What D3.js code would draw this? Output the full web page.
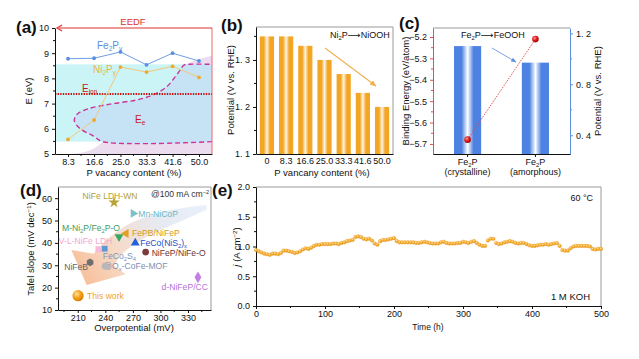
<!DOCTYPE html>
<html><head><meta charset="utf-8">
<script src="https://cdn.jsdelivr.net/npm/d3@7"></script>
<style>
body{margin:0;background:#fff}
svg{display:block;font-family:"Liberation Sans",Arial,"DejaVu Sans",sans-serif}
</style>
</head><body>
<svg id="chart" width="639" height="359"></svg>
<script>
// ---------------- DATA ----------------
// (a)
const aVacancy = [8.3, 16.6, 25.0, 33.3, 41.6, 50.0];
const aFe2Py = [8.78, 8.80, 9.05, 8.54, 9.00, 8.69];
const aNi2Py = [5.58, 6.35, 8.45, 8.25, 8.48, 8.04];
const aEion = 7.38;
const aBand = [5.49, 8.56];
const aEeCurve = [[54.15,5.49],[19.4,5.49],[16.3,5.72],[12.0,6.02],[10.3,6.32],[11.2,6.58],[14.6,6.79],[21.7,6.98],[30.3,7.15],[35.6,7.36],[39.8,7.68],[42.4,8.06],[44.0,8.33],[45.2,8.53],[47,8.56],[54.15,8.56]];
const aEedfCurve = [[9.5,5.0],[13,5.06],[16.5,5.22],[19.4,5.48],[25,6.0],[32,6.8],[40,7.8],[46,8.55],[50,8.76],[54.15,8.9]];
// (b)
const bVacancy = ["0","8.3","16.6","25.0","33.3","41.6","50.0"];
const bPotential = [1.35, 1.35, 1.33, 1.30, 1.27, 1.23, 1.20];
// (c)
const cPhase = ["crystalline","amorphous"];
const cPotential = [1.10, 0.97];
const cBinding = [-5.68, -5.21];
// (d)
const dNames = ["NiFe LDH-WN","Mn-NiCoP","M-Ni2P/Fe2P-O","FePB/NiFeP","FeCo(NiS2)x","NiFeP/NiFe-O","V-L-NiFe LDH","FeCo2S4","NiFeB","@Ox-CoFe-MOF","d-NiFeP/CC","This work"];
const dOverpotential = [249.5, 270.4, 254.9, 262.5, 272.6, 283.9, 232.4, 239.3, 223.4, 240.0, 340.8, 210.3];
const dTafel = [58.1, 53.2, 42.7, 44.2, 40.0, 35.9, 37.2, 37.4, 31.3, 29.6, 24.6, 16.4];
// trend arrow outline (overpotential, Tafel units)
const dArrowUpper = [[350.2,56.9],[328.5,55.8],[299.5,53.6],[270.1,49.3],[245.1,42.6],[227.5,35.2]];
const dArrowHead = [[203,36.8],[219.8,21.2],[262,26.0]];
const dArrowLower = [[249.5,29.8],[257.8,35.0],[277.7,41.0],[302.7,46.3],[328.5,50.8],[350.2,54.8]];
// (e)
const eHours = [0,4,8,12,16,20,24,28,32,36,40,44,48,52,56,60,64,68,72,76,80,84,88,92,96,100,104,108,112,116,120,124,128,132,136,140,144,148,152,156,160,164,168,172,176,180,184,188,192,196,200,204,208,212,216,220,224,228,232,236,240,244,248,252,256,260,264,268,272,276,280,284,288,292,296,300,304,308,312,316,320,324,328,332,336,340,344,348,352,356,360,364,368,372,376,380,384,388,392,396,400,404,408,412,416,420,424,428,432,436,440,444,448,452,456,460,464,468,472,476,480,484,488,492,496,500];
const eCurrent = [0.94,0.92,0.90,0.88,0.87,0.86,0.88,0.88,0.87,0.89,0.93,0.93,0.92,0.91,0.89,0.90,0.92,0.95,0.97,0.96,0.98,1.01,1.03,1.03,1.04,1.04,1.04,1.04,1.05,1.05,1.04,1.06,1.07,1.09,1.10,1.11,1.16,1.17,1.16,1.13,1.12,1.13,1.10,1.05,1.03,1.09,1.11,1.11,1.12,1.13,1.14,1.09,1.07,1.07,1.07,1.07,1.07,1.07,1.06,1.06,1.07,1.08,1.07,1.06,1.05,1.05,1.05,1.07,1.08,1.06,1.05,1.05,1.05,1.06,1.06,1.08,1.07,1.06,1.08,1.09,1.06,1.03,1.01,1.01,1.10,1.13,1.13,1.06,1.04,1.05,1.07,1.08,1.09,1.08,1.06,1.05,1.06,1.06,1.04,1.02,1.01,1.01,1.02,1.03,1.03,1.04,1.03,1.04,1.05,1.06,1.01,0.94,0.93,0.93,0.97,1.00,1.01,1.01,1.01,1.01,1.01,1.00,0.96,0.95,0.96,0.96];

// ---------------- STYLES / LAYOUT ----------------
const svg = d3.select("#chart");
svg.append("rect").attr("width",639).attr("height",359).attr("fill","#fff");
const defs = svg.append("defs");
const FS = 9;

function hGrad(id, edge, mid) {
  const g = defs.append("linearGradient").attr("id", id).attr("x1","0").attr("x2","1").attr("y1","0").attr("y2","0");
  [[0,edge],[0.28,edge],[0.5,mid],[0.72,edge],[1,edge]].forEach(([o,c])=>g.append("stop").attr("offset",o).attr("stop-color",c));
}
hGrad("gOrange", "#f3a524", "#fff4e0");
hGrad("gBlue", "#4d82e3", "#ffffff");
function sphere(id, light, base, dark) {
  const g = defs.append("radialGradient").attr("id", id).attr("cx","0.38").attr("cy","0.35").attr("r","0.65");
  g.append("stop").attr("offset",0).attr("stop-color",light);
  g.append("stop").attr("offset",0.55).attr("stop-color",base);
  g.append("stop").attr("offset",1).attr("stop-color",dark);
}
sphere("sRed", "#ff9a9a", "#e01818", "#a00000");
sphere("sOrange", "#ffe2a0", "#f5a21a", "#d88000");
sphere("sDot", "#ffe0a0", "#f6ae2c", "#e28e10");

function marker(id, color) {
  defs.append("marker").attr("id", id).attr("viewBox","0 0 10 10").attr("refX",9).attr("refY",5)
    .attr("markerWidth",6).attr("markerHeight",6).attr("orient","auto-start-reverse")
    .append("path").attr("d","M0,1 L10,5 L0,9 z").attr("fill",color);
}
marker("arrOrange", "#f0b050");
marker("arrBlue", "#5b8fe0");

function styleAxis(g, color) {
  g.selectAll("path").attr("stroke", color).attr("stroke-width", 1);
  g.selectAll("line").attr("stroke", color);
  g.selectAll("text").attr("fill", "#111").attr("font-size", FS).attr("font-family", "Liberation Sans, Arial, sans-serif");
}
function minorTicks(g, vals, scale, orient, at, color, len) {
  vals.forEach(v => {
    const p = scale(v);
    if (orient === "left") g.append("line").attr("x1", at).attr("x2", at - len).attr("y1", p).attr("y2", p);
    else if (orient === "right") g.append("line").attr("x1", at).attr("x2", at + len).attr("y1", p).attr("y2", p);
    else g.append("line").attr("x1", p).attr("x2", p).attr("y1", at).attr("y2", at + len);
  });
  g.selectAll("line").attr("stroke", color);
}
function richText(parent, x, y, parts, opts) {
  const t = parent.append("text").attr("x", x).attr("y", y)
    .attr("font-size", opts.size || FS).attr("fill", opts.color || "#111")
    .attr("text-anchor", opts.anchor || "start");
  if (opts.rotate) t.attr("transform", `rotate(-90,${x},${y})`);
  parts.forEach(p => {
    if (typeof p === "string") t.append("tspan").text(p);
    else if (p.sub) t.append("tspan").attr("font-size", (opts.size || FS) * 0.65).attr("dy", 2).text(p.sub);
    else if (p.sup) t.append("tspan").attr("font-size", (opts.size || FS) * 0.65).attr("dy", -3.5).text(p.sup);
    else if (p.reset) t.append("tspan").attr("dy", p.reset).text(p.text);
    else if (p.italic) t.append("tspan").attr("font-style","italic").text(p.italic);
  });
  return t;
}
function panelLabel(x, y, s) {
  svg.append("text").attr("x", x).attr("y", y).attr("font-size", 17).attr("font-weight", "bold").attr("fill", "#111").text(s);
}

// ================= PANEL (a) =================
const A = {x0:55, y0:28, x1:212, y1:154};
const ax = d3.scaleLinear().domain([4.15, 54.15]).range([A.x0, A.x1]);
const ay = d3.scaleLinear().domain([5, 10]).range([A.y1, A.y0]);
const ga = svg.append("g");
const lineA = d3.line().x(d => ax(d[0])).y(d => ay(d[1])).curve(d3.curveCatmullRom);
ga.append("path").attr("d", lineA(aEedfCurve) + `L${ax(54.15)},${ay(5)}Z`).attr("fill", "#ecdcf0");
ga.append("rect").attr("x", A.x0).attr("width", A.x1 - A.x0).attr("y", ay(aBand[1])).attr("height", ay(aBand[0]) - ay(aBand[1])).attr("fill", "#cbf4f7");
const eePath = d3.line().x(d => ax(d[0])).y(d => ay(d[1])).curve(d3.curveCatmullRom.alpha(0.5));
ga.append("path").attr("d", eePath(aEeCurve) + "Z").attr("fill", "#c5e3f4");
ga.append("path").attr("d", eePath(aEeCurve)).attr("fill", "none").attr("stroke", "#cc3399").attr("stroke-width", 1.4).attr("stroke-dasharray", "5 3");
ga.append("line").attr("x1", A.x0).attr("x2", A.x1).attr("y1", ay(aEion)).attr("y2", ay(aEion)).attr("stroke", "#cc1111").attr("stroke-width", 2.2).attr("stroke-dasharray", "1.4 1.2");
const aLine = d3.line().x((d,i) => ax(aVacancy[i])).y(d => ay(d));
ga.append("path").attr("d", aLine(aNi2Py)).attr("fill", "none").attr("stroke", "#f2c77a").attr("stroke-width", 1);
ga.append("path").attr("d", aLine(aFe2Py)).attr("fill", "none").attr("stroke", "#6e9ee8").attr("stroke-width", 1);
ga.selectAll(".ni").data(aNi2Py).enter().append("circle").attr("cx", (d,i) => ax(aVacancy[i])).attr("cy", d => ay(d)).attr("r", 1.9).attr("fill", "#f0a830");
ga.selectAll(".fe").data(aFe2Py).enter().append("circle").attr("cx", (d,i) => ax(aVacancy[i])).attr("cy", d => ay(d)).attr("r", 1.9).attr("fill", "#5a8ee3");
ga.append("line").attr("x1", A.x1).attr("x2", A.x1).attr("y1", A.y0).attr("y2", A.y1).attr("stroke", "#e86a6a");
ga.append("line").attr("x1", A.x0 + 4).attr("x2", A.x1).attr("y1", A.y0).attr("y2", A.y0).attr("stroke", "#e03030").attr("stroke-width", 1.2);
ga.append("path").attr("d", `M${A.x0+7},${A.y0-3} L${A.x0+2},${A.y0} L${A.x0+7},${A.y0+3}`).attr("fill","none").attr("stroke","#e03030").attr("stroke-width",1.2);
const ayAxis = ga.append("g").attr("transform", `translate(${A.x0},0)`).call(d3.axisLeft(ay).tickValues([5,6,7,8,9,10]).tickSize(3).tickSizeOuter(0).tickFormat(d3.format("d")));
styleAxis(ayAxis, "#111");
minorTicks(ga.append("g"), [5.5,6.5,7.5,8.5,9.5], ay, "left", A.x0, "#111", 2);
const axAxis = ga.append("g").attr("transform", `translate(0,${A.y1})`).call(d3.axisBottom(ax).tickValues(aVacancy).tickSize(3).tickPadding(2).tickSizeOuter(0).tickFormat(d3.format(".1f")));
styleAxis(axAxis, "#111");
minorTicks(ga.append("g"), [12.45,20.8,29.15,37.45,45.8], ax, "bottom", A.y1, "#111", 2);
ga.append("text").attr("x", 133).attr("y", 25).attr("text-anchor","middle").attr("font-size", 9.5).attr("fill", "#e03030").text("EEDF");
richText(ga, 97, 49, ["Fe", {sub:"2"}, {reset:-2, text:"P"}, {sub:"y"}], {color:"#5a8ee3", size:10});
richText(ga, 93, 73, ["Ni", {sub:"2"}, {reset:-2, text:"P"}, {sub:"y"}], {color:"#eab64a", size:10});
richText(ga, 82, 92, ["E", {sub:"ion"}], {color:"#c81818", size:10});
richText(ga, 135, 123, ["E", {sub:"e"}], {color:"#c81818", size:10});
richText(svg, 32, 91, ["E (eV)"], {rotate:true, anchor:"middle", size:9.5});
svg.append("text").attr("x", 134).attr("y", 176).attr("text-anchor","middle").attr("font-size",9.5).attr("fill","#111").text("P vacancy content (%)");
panelLabel(16, 33, "(a)");

// ================= PANEL (b) =================
const B = {x0:256, y0:27, x1:393, y1:154};
const bx = d3.scaleBand().domain(bVacancy).range([B.x0, B.x1]).paddingInner(0.26).paddingOuter(0.2);
const by = d3.scaleLinear().domain([1.1, 1.37]).range([B.y1, B.y0]);
const gb = svg.append("g");
gb.selectAll(".bar").data(bPotential).enter().append("rect")
  .attr("x", (d,i) => bx(bVacancy[i])).attr("width", bx.bandwidth())
  .attr("y", d => by(d)).attr("height", d => B.y1 - by(d)).attr("fill", "url(#gOrange)");
gb.append("path").attr("d", `M${B.x0},${B.y0}H${B.x1}V${B.y1}`).attr("fill","none").attr("stroke","#9a9a9a");
const byAxis = gb.append("g").attr("transform", `translate(${B.x0},0)`).call(d3.axisLeft(by).tickValues([1.1,1.2,1.3]).tickSize(3).tickSizeOuter(0).tickFormat(d => d.toFixed(1).replace(".", ". ")));
styleAxis(byAxis, "#111");
minorTicks(gb.append("g"), [1.15,1.25,1.35], by, "left", B.x0, "#111", 2);
const bxAxis = gb.append("g").attr("transform", `translate(0,${B.y1})`).call(d3.axisBottom(bx).tickSize(0).tickPadding(4).tickSizeOuter(0));
styleAxis(bxAxis, "#111");
gb.append("line").attr("x1", 325).attr("y1", 48).attr("x2", 376).attr("y2", 86).attr("stroke", "#f0b050").attr("stroke-width", 1.1).attr("marker-end", "url(#arrOrange)");
richText(gb, 330, 38, ["Ni", {sub:"2"}, {reset:-2, text:"P\u27F6NiOOH"}], {size:9});
richText(svg, 234, 90, ["Potential (V vs. RHE)"], {rotate:true, anchor:"middle", size:9.5});
svg.append("text").attr("x", 322).attr("y", 176).attr("text-anchor","middle").attr("font-size",9.5).attr("fill","#111").text("P vancany content (%)");
panelLabel(221, 31, "(b)");

// ================= PANEL (c) =================
const C = {x0:433, y0:28, x1:570, y1:154};
const cx = d3.scaleBand().domain(cPhase).range([C.x0, C.x1]).paddingInner(0.6).paddingOuter(0.31);
const cyL = d3.scaleLinear().domain([-5.747, -5.158]).range([C.y1, C.y0]);
const cyR = d3.scaleLinear().domain([0.253, 1.242]).range([C.y1, C.y0]);
const gc = svg.append("g");
gc.selectAll(".bar").data(cPotential).enter().append("rect")
  .attr("x", (d,i) => cx(cPhase[i])).attr("width", cx.bandwidth())
  .attr("y", d => cyR(d)).attr("height", d => C.y1 - cyR(d)).attr("fill", "url(#gBlue)");
gc.append("line").attr("x1", C.x0).attr("x2", C.x1).attr("y1", C.y0).attr("y2", C.y0).attr("stroke", "#9a9a9a");
const cyLAxis = gc.append("g").attr("transform", `translate(${C.x0},0)`).call(d3.axisLeft(cyL).tickValues([-5.2,-5.3,-5.4,-5.5,-5.6,-5.7]).tickSize(3).tickSizeOuter(0).tickFormat(d => "\u2212" + Math.abs(d).toFixed(1)));
styleAxis(cyLAxis, "#e05050");
minorTicks(gc.append("g"), [-5.25,-5.35,-5.45,-5.55,-5.65], cyL, "left", C.x0, "#e05050", 2);
const cyRAxis = gc.append("g").attr("transform", `translate(${C.x1},0)`).call(d3.axisRight(cyR).tickValues([0.4,0.8,1.2]).tickSize(3).tickSizeOuter(0).tickFormat(d => d.toFixed(1).replace(".", ". ")));
styleAxis(cyRAxis, "#5b8fe0");
minorTicks(gc.append("g"), [0.6,1.0], cyR, "right", C.x1, "#5b8fe0", 2);
const cxAxis = gc.append("g").attr("transform", `translate(0,${C.y1})`).call(d3.axisBottom(cx).tickSize(3).tickSizeOuter(0).tickFormat(""));
styleAxis(cxAxis, "#111");
cPhase.forEach(p => {
  richText(gc, cx(p) + cx.bandwidth()/2, 165, ["Fe", {sub:"2"}, {reset:-2, text:"P"}], {anchor:"middle", size:9});
  gc.append("text").attr("x", cx(p) + cx.bandwidth()/2).attr("y", 175).attr("text-anchor","middle").attr("font-size",9).attr("fill","#111").text("(" + p + ")");
});
const cLine = d3.line().x((d,i) => cx(cPhase[i]) + cx.bandwidth()/2).y(d => cyL(d));
gc.append("path").attr("d", cLine(cBinding)).attr("fill","none").attr("stroke","#e04040").attr("stroke-width",0.9).attr("stroke-dasharray","1.5 1.2");
gc.selectAll(".pt").data(cBinding).enter().append("circle").attr("cx", (d,i) => cx(cPhase[i]) + cx.bandwidth()/2).attr("cy", d => cyL(d)).attr("r", 3.3).attr("fill", "url(#sRed)");
gc.append("line").attr("x1", 492).attr("y1", 48).attr("x2", 516).attr("y2", 62).attr("stroke", "#6b9ae6").attr("stroke-width", 0.9).attr("marker-end", "url(#arrBlue)");
richText(gc, 461, 38, ["Fe", {sub:"2"}, {reset:-2, text:"P\u27F6FeOOH"}], {size:9});
richText(svg, 409, 91, ["Binding Energy (eV/atom)"], {rotate:true, anchor:"middle", size:9.5});
richText(svg, 601, 91, ["Potential (V vs. RHE)"], {rotate:true, anchor:"middle", size:9.5});
panelLabel(399, 29, "(c)");

// ================= PANEL (d) =================
const D = {x0:58, y0:187, x1:211, y1:310};
const dx = d3.scaleLinear().domain([188.5, 355]).range([D.x0, D.x1]);
const dy = d3.scaleLinear().domain([10, 65]).range([D.y1, D.y0]);
const gd = svg.append("g");
const agr = defs.append("linearGradient").attr("id","gArrow").attr("gradientUnits","userSpaceOnUse")
  .attr("x1", dx(dArrowUpper[0][0])).attr("y1", dy(dArrowUpper[0][1]))
  .attr("x2", dx(dArrowHead[1][0])).attr("y2", dy(dArrowHead[1][1]));
agr.append("stop").attr("offset",0).attr("stop-color","#d3e3f6").attr("stop-opacity",0.5);
agr.append("stop").attr("offset",0.35).attr("stop-color","#e1e4ee").attr("stop-opacity",0.8);
agr.append("stop").attr("offset",0.7).attr("stop-color","#f6d3bd").attr("stop-opacity",0.85);
agr.append("stop").attr("offset",1).attr("stop-color","#f6b990").attr("stop-opacity",0.9);
const cr = d3.line().x(d => dx(d[0])).y(d => dy(d[1])).curve(d3.curveCatmullRom);
const arrowD = cr(dArrowUpper)
  + dArrowHead.map(p => `L${dx(p[0])},${dy(p[1])}`).join("")
  + "L" + cr(dArrowLower).slice(1) + "Z";
gd.append("path").attr("d", arrowD).attr("fill", "url(#gArrow)");
gd.append("path").attr("d", `M${D.x0},${D.y0}H${D.x1}V${D.y1}`).attr("fill","none").attr("stroke","#9a9a9a");
const dyAxis = gd.append("g").attr("transform", `translate(${D.x0},0)`).call(d3.axisLeft(dy).tickValues([10,20,30,40,50,60]).tickSize(3).tickSizeOuter(0));
styleAxis(dyAxis, "#111");
minorTicks(gd.append("g"), [15,25,35,45,55], dy, "left", D.x0, "#111", 2);
const dxAxis = gd.append("g").attr("transform", `translate(0,${D.y1})`).call(d3.axisBottom(dx).tickValues([210,240,270,300,330]).tickSize(3).tickPadding(1.5).tickSizeOuter(0));
styleAxis(dxAxis, "#111");
minorTicks(gd.append("g"), [195,225,255,285,315,345], dx, "bottom", D.y1, "#111", 2);

const dStyles = [
  {shape:d3.symbolStar, size:40, color:"#b8a338", tc:"#b3a034", dx:-4, dy:-3, anchor:"middle"},
  {shape:"triR", size:34, color:"#7cc3c9", tc:"#6fb6bf", dx:5, dy:3.5, anchor:"start"},
  {shape:"triD", size:34, color:"#3aa866", tc:"#3c9e5e", dx:1, dy:-6, anchor:"end"},
  {shape:"triL", size:34, color:"#e0a023", tc:"#d59b22", dx:6, dy:2, anchor:"start"},
  {shape:"triU", size:34, color:"#2162d6", tc:"#2050c4", dx:5, dy:3, anchor:"start"},
  {shape:d3.symbolCircle, size:36, color:"#7a3c3c", tc:"#6a3434", dx:6, dy:4, anchor:"start"},
  {shape:d3.symbolSquare, size:34, color:"#f6b9d8", tc:"#f3a6ce", dx:14, dy:-5, anchor:"end"},
  {shape:d3.symbolSquare, size:34, color:"#5b9bd5", tc:"#7894be", dx:-2, dy:10, anchor:"start"},
  {shape:"hex", size:40, color:"#6f6f6f", tc:"#666", dx:-2, dy:8, anchor:"end"},
  {shape:d3.symbolCircle, size:40, color:"#b8b8b8", tc:"#8090b4", dx:-2, dy:3, anchor:"start"},
  {shape:d3.symbolDiamond, size:40, color:"#c47ee3", tc:"#b672d6", dx:10, dy:13, anchor:"end"},
  {shape:"sphere", size:0, color:"url(#sOrange)", tc:"#f0a22a", dx:9, dy:3, anchor:"start"}
];
function shapePath(s) {
  if (["triU","triD","triR","triL"].includes(s.shape)) return d3.symbol(d3.symbolTriangle, s.size)();
  if (s.shape === "hex") { const r = 3.8; return d3.range(6).map(k => { const a = Math.PI/6 + k*Math.PI/3; return (k ? "L" : "M") + (r*Math.cos(a)).toFixed(2) + "," + (r*Math.sin(a)).toFixed(2); }).join("") + "Z"; }
  return d3.symbol(s.shape, s.size)();
}
const rot = {triU:0, triD:180, triR:90, triL:-90};
const subs = {"M-Ni2P/Fe2P-O":["M-Ni",["2"],"P/Fe",["2"],"P-O"], "FeCo(NiS2)x":["FeCo(NiS",["2"],")",["x"]], "FeCo2S4":["FeCo",["2"],"S",["4"]], "@Ox-CoFe-MOF":["@O",["x"],"-CoFe-MOF"]};
dNames.forEach((name, i) => {
  const s = dStyles[i];
  const px = dx(dOverpotential[i]), py = dy(dTafel[i]);
  const t = gd.append("text").attr("x", px + s.dx).attr("y", py + s.dy).attr("text-anchor", s.anchor).attr("font-size", 8.6).attr("fill", s.tc);
  const parts = subs[name] || [name];
  let down = false;
  parts.forEach(p => {
    if (Array.isArray(p)) { t.append("tspan").attr("font-size", 5.8).attr("dy", down ? 0 : 2).text(p[0]); down = true; }
    else { t.append("tspan").attr("dy", down ? -2 : 0).text(p); down = false; }
  });
  if (s.shape === "sphere") {
    gd.append("circle").attr("cx", px).attr("cy", py).attr("r", 5.6).attr("fill", s.color);
  } else {
    gd.append("path").attr("d", shapePath(s)).attr("transform", `translate(${px},${py}) rotate(${rot[s.shape] || 0})`).attr("fill", s.color);
  }
});
richText(gd, 209, 197, ["@100 mA cm", {sup:"\u22122"}], {anchor:"end", size:8.6, color:"#333"});
richText(svg, 34, 249, ["Tafel slope (mV dec", {sup:"\u22121"}, {reset:3.5, text:")"}], {rotate:true, anchor:"middle", size:9.5});
svg.append("text").attr("x", 134).attr("y", 331).attr("text-anchor","middle").attr("font-size",9.5).attr("fill","#111").text("Overpotential (mV)");
panelLabel(20, 196, "(d)");

// ================= PANEL (e) =================
const E = {x0:256, y0:187, x1:601, y1:306};
const ex = d3.scaleLinear().domain([0, 500]).range([E.x0, E.x1]);
const ey = d3.scaleLinear().domain([0, 2]).range([E.y1, E.y0]);
const ge = svg.append("g");
ge.append("path").attr("d", `M${E.x0},${E.y0}H${E.x1}V${E.y1}`).attr("fill","none").attr("stroke","#9a9a9a");
const eyAxis = ge.append("g").attr("transform", `translate(${E.x0},0)`).call(d3.axisLeft(ey).tickValues([0,0.5,1,1.5,2]).tickSize(3).tickSizeOuter(0).tickFormat(d3.format(".1f")));
styleAxis(eyAxis, "#111");
minorTicks(ge.append("g"), [0.25,0.75,1.25,1.75], ey, "left", E.x0, "#111", 2);
const exAxis = ge.append("g").attr("transform", `translate(0,${E.y1})`).call(d3.axisBottom(ex).tickValues([0,100,200,300,400,500]).tickSize(3).tickPadding(2).tickSizeOuter(0));
styleAxis(exAxis, "#111");
minorTicks(ge.append("g"), [50,150,250,350,450], ex, "bottom", E.y1, "#111", 2);
ge.selectAll(".dot").data(eCurrent).enter().append("circle")
  .attr("cx", (d,i) => ex(eHours[i])).attr("cy", d => ey(d)).attr("r", 1.8)
  .attr("fill", "url(#sDot)").attr("stroke", "#eba030").attr("stroke-width", 0.4);
ge.append("text").attr("x", 593).attr("y", 201).attr("text-anchor","end").attr("font-size",9).attr("fill","#111").text("60 \u00B0C");
ge.append("text").attr("x", 590).attr("y", 300).attr("text-anchor","end").attr("font-size",9.5).attr("fill","#111").text("1 M KOH");
richText(svg, 240, 247, [{italic:"j"}, " (A cm", {sup:"\u22122"}, {reset:3.5, text:")"}], {rotate:true, anchor:"middle", size:9.5});
svg.append("text").attr("x", 428).attr("y", 330).attr("text-anchor","middle").attr("font-size",8.5).attr("fill","#111").text("Time (h)");
panelLabel(212, 196, "(e)");
</script>
</body></html>
